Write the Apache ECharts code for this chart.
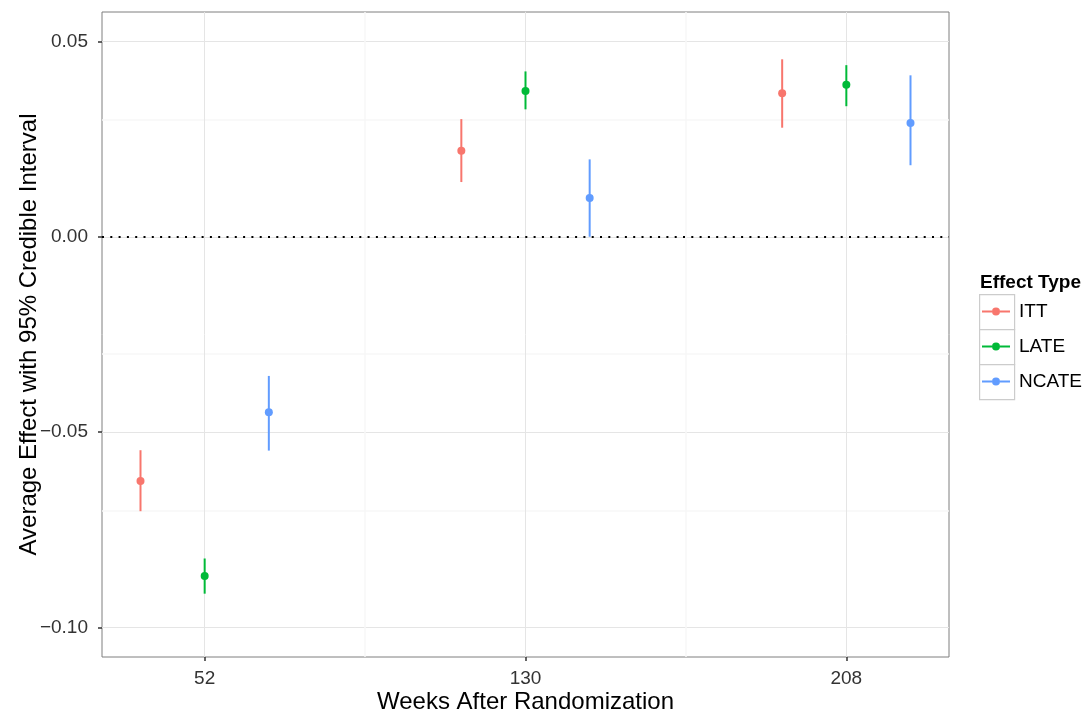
<!DOCTYPE html>
<html lang="en">
<head>
    <meta charset="UTF-8">
    <title>Average Effect with 95% Credible Interval</title>
    <script src="https://cdn.jsdelivr.net/npm/echarts@6/dist/echarts.min.js"></script>
    <style>
        html, body { margin: 0; padding: 0; background: #fff; }
        #main { width: 1086px; height: 713px; }
    </style>
</head>
<body>
    <div id="main"></div>
    <script>
        // x categories (discrete, ggplot-style dodge)
        var weeks = ['52', '130', '208'];
        var types = ['ITT', 'LATE', 'NCATE'];
        var colors = ['#F8766D', '#00BA38', '#619CFF'];
        var dodge = [-0.2, 0, 0.2];

        // estimates and 95% credible interval, one array per type
        var ittEst = [-0.0625, 0.0220, 0.0367];
        var ittLo = [-0.0702, 0.0140, 0.0279];
        var ittHi = [-0.0546, 0.0301, 0.0454];

        var lateEst = [-0.0868, 0.0373, 0.0389];
        var lateLo = [-0.0913, 0.0326, 0.0334];
        var lateHi = [-0.0823, 0.0423, 0.0439];

        var ncateEst = [-0.0449, 0.0099, 0.0291];
        var ncateLo = [-0.0547, 0.0000, 0.0183];
        var ncateHi = [-0.0356, 0.0198, 0.0413];

        var yTicks = [-0.10, -0.05, 0.00, 0.05];
        var yMinor = [-0.075, -0.025, 0.025];
        var xTicks = [0, 1, 2];
        var xMinor = [0.5, 1.5];

        var est = [ittEst, lateEst, ncateEst];
        var lo = [ittLo, lateLo, ncateLo];
        var hi = [ittHi, lateHi, ncateHi];

        var font = "'Liberation Sans', Arial, Helvetica, sans-serif";
        var chart = echarts.init(document.getElementById('main'));

        function renderRange(params, api) {
            var x = api.value(0);
            var top = api.coord([x, api.value(3)]);
            var bot = api.coord([x, api.value(2)]);
            var mid = api.coord([x, api.value(1)]);
            var col = api.visual('color');
            return {
                type: 'group',
                children: [
                    { type: 'line', shape: { x1: top[0], y1: top[1], x2: bot[0], y2: bot[1] },
                      style: { stroke: col, lineWidth: 2 } },
                    { type: 'circle', shape: { cx: mid[0], cy: mid[1], r: 4 },
                      style: { fill: col } }
                ]
            };
        }

        // grid lines (ggplot theme_bw style)
        var gridLines = [];
        yTicks.forEach(function (v) { gridLines.push({ yAxis: v, lineStyle: { color: '#e5e5e5', width: 1, type: 'solid' } }); });
        yMinor.forEach(function (v) { gridLines.push({ yAxis: v, lineStyle: { color: '#f7f7f7', width: 1.5, type: 'solid' } }); });
        xTicks.forEach(function (v) { gridLines.push({ xAxis: v, lineStyle: { color: '#e5e5e5', width: 1, type: 'solid' } }); });
        xMinor.forEach(function (v) { gridLines.push({ xAxis: v, lineStyle: { color: '#f7f7f7', width: 1.5, type: 'solid' } }); });

        var series = [{
            type: 'line',
            data: [],
            silent: true,
            z: 0,
            markLine: {
                silent: true,
                z: 0,
                symbol: 'none',
                label: { show: false },
                animation: false,
                data: gridLines
            }
        }, {
            type: 'line',
            data: [],
            silent: true,
            z: 1,
            markLine: {
                silent: true,
                z: 1,
                symbol: 'none',
                label: { show: false },
                animation: false,
                lineStyle: { color: '#000', width: 2, type: [2, 6.3] },
                data: [{ yAxis: 0 }]
            }
        }];

        types.forEach(function (t, k) {
            var data = [];
            for (var i = 0; i < weeks.length; i++) {
                data.push([i + dodge[k], est[k][i], lo[k][i], hi[k][i]]);
            }
            series.push({
                name: t,
                type: 'custom',
                z: 3,
                itemStyle: { color: colors[k] },
                renderItem: renderRange,
                encode: { x: 0, y: [1, 2, 3] },
                data: data
            });
        });

        var legendIcon = 'path://M0,3H10V5H0Z M18,3H28V5H18Z M10,4A4,4 0 1,1 18,4A4,4 0 1,1 10,4Z';

        chart.setOption({
            animation: false,
            textStyle: { fontFamily: font },
            grid: {
                left: 102, top: 12, right: 137, bottom: 56,
                outerBoundsMode: 'none',
                show: true, borderColor: '#7f7f7f', borderWidth: 1
            },
            title: {
                text: 'Effect Type',
                left: 975, top: 268,
                textStyle: { fontFamily: font, fontSize: 19, fontWeight: 'bold', color: '#000' }
            },
            legend: {
                orient: 'vertical',
                left: 977, top: 289,
                itemWidth: 28, itemHeight: 8,
                itemGap: 0,
                icon: legendIcon,
                textStyle: { fontFamily: font, fontSize: 19, color: '#000', lineHeight: 35, padding: [0, 0, 0, 4] },
                data: types.map(function (t) { return { name: t, icon: legendIcon }; })
            },
            graphic: [0, 1, 2].map(function (i) {
                return {
                    type: 'rect', left: 979, top: 294 + i * 35, z: -1,
                    shape: { width: 35, height: 35 },
                    style: { fill: '#fff', stroke: '#cccccc', lineWidth: 1.2 }
                };
            }),
            xAxis: {
                type: 'value',
                min: -0.32, max: 2.32,
                name: 'Weeks After Randomization',
                nameLocation: 'middle',
                nameGap: 33,
                nameMoveOverlap: false,
                nameTextStyle: { fontFamily: font, fontSize: 24, color: '#000' },
                axisLine: { show: false, onZero: false },
                axisTick: { show: true, customValues: xTicks, length: 4, lineStyle: { color: '#333', width: 1.5 } },
                axisLabel: {
                    customValues: xTicks, margin: 12,
                    fontFamily: font, fontSize: 19, color: '#333',
                    formatter: function (v) { return weeks[Math.round(v)]; }
                },
                splitLine: { show: false }
            },
            yAxis: {
                type: 'value',
                min: -0.1075, max: 0.0575,
                name: 'Average Effect with 95% Credible Interval',
                nameLocation: 'middle',
                nameGap: 61,
                nameMoveOverlap: false,
                nameTextStyle: { fontFamily: font, fontSize: 24, color: '#000' },
                axisLine: { show: false, onZero: false },
                axisTick: { show: true, customValues: yTicks, length: 4, lineStyle: { color: '#333', width: 1.5 } },
                axisLabel: {
                    customValues: yTicks, margin: 14,
                    fontFamily: font, fontSize: 19, color: '#333',
                    formatter: function (v) { return v.toFixed(2).replace('-', '\u2212'); }
                },
                splitLine: { show: false }
            },
            series: series
        });
    </script>
</body>
</html>
